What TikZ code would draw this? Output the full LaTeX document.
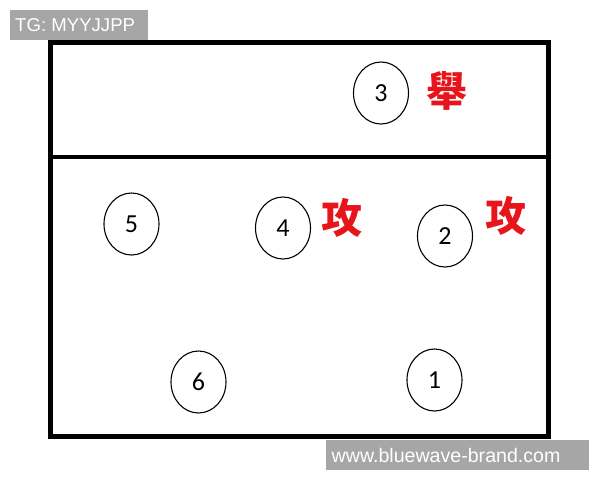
\documentclass[tikz,border=0pt]{standalone}
\usepackage{fontspec}
\setmainfont{Liberation Sans}
\newfontfamily\numfont{Carlito}
\newfontfamily\cjk{Noto Sans CJK TC}
\usepackage{tikz}
\usetikzlibrary{shapes.geometric}

\definecolor{tagGray}{HTML}{A6A6A6}
\definecolor{atkRed}{HTML}{E8141B}

\begin{document}
\begin{tikzpicture}[x=1pt, y=-1pt,
  player/.style={draw, ellipse, line width=1.1pt, minimum width=55pt, minimum height=62pt, inner sep=0pt, font=\numfont\fontsize{26}{26}\selectfont},
  role/.style={text=atkRed, inner sep=0pt, font=\cjk\bfseries\fontsize{41}{41}\selectfont},
  tag/.style={text=white, inner sep=0pt, anchor=west}]

  \useasboundingbox (0,0) rectangle (600,480);

  % court and net
  \draw [line width=5pt] (50.5,42.5) rectangle (548,436);
  \draw [line width=4pt] (50.5,157) -- (548,157);

  % players
  \node [player] (P3) at (381,93) {3};
  \node [player] (P5) at (131.5,224) {5};
  \node [player] (P4) at (283,228) {4};
  \node [player] (P2) at (445,236) {2};
  \node [player] (P6) at (198.5,382) {6};
  \node [player] (P1) at (434.5,380) {1};

  \node [role] (B3) at (447,91) {舉};
  \node [role] (A4) at (342,218) {攻};
  \node [role] (A2) at (505.5,216) {攻};

  % watermarks
  \fill [tagGray] (10,10) rectangle (148,39.5);
  \node [tag, font=\fontsize{18.6}{18.6}\selectfont] (TG) at (15,25) {TG: MYYJJPP};
  \fill [tagGray] (326,439.5) rectangle (589,469.5);
  \node [tag, font=\fontsize{19.6}{19.6}\selectfont] (WW) at (331.5,455) {www.bluewave-brand.com};
\end{tikzpicture}
\end{document}
